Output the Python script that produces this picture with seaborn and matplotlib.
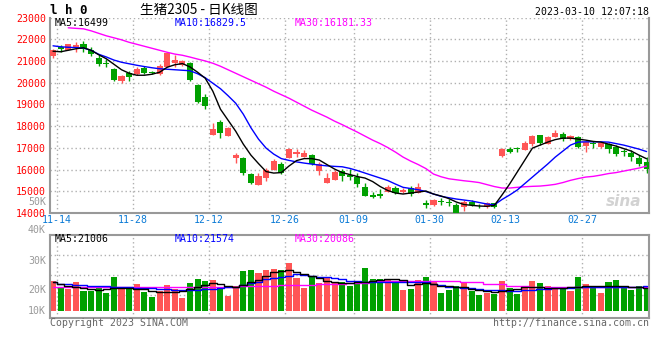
import numpy as np
import pandas as pd
import matplotlib
matplotlib.use("Agg")
import matplotlib.pyplot as plt
import seaborn as sns

# ---------------- data ----------------
opens = [21220, 21650, 21530, 21650, 21800, 21520, 21160, 20920, 20610, 20070,
         20450, 20390, 20680, 20490, 20390, 20730, 20920, 20805, 20900, 19885,
         19335, 17585, 18200, 17540, 16530, 16515, 15795, 15290, 15625, 15980,
         16250, 16515, 16715, 16560, 16670, 15945, 15365, 15520, 15945, 15750,
         15670, 15210, 14830, 14860, 14980, 15135, 14980, 15135, 14935, 14460,
         14368, 14560, 14500, 14370, 14260, 14520, 14340, 14260, 14445, 16620,
         16930, 16980, 16900, 17160, 17570, 17200, 17480, 17660, 17430, 17480,
         17080, 17200, 17050, 17160, 17020, 16820, 16770, 16540, 16360]
highs = [21540, 21725, 21800, 21880, 21920, 21650, 21265, 21080, 20665, 20370,
         20530, 20710, 20760, 20550, 20850, 21425, 21265, 21035, 20945, 19930,
         19500, 18140, 18275, 17955, 16770, 16575, 15840, 15825, 16070, 16480,
         16360, 17000, 16930, 16900, 16700, 16360, 15825, 15980, 16010, 16010,
         15825, 15365, 14950, 15090, 15290, 15240, 15150, 15240, 15365, 14600,
         14640, 14675, 14640, 14460, 14600, 14620, 14400, 14505, 14480, 16990,
         17050, 17020, 17300, 17610, 17610, 17540, 17830, 17720, 17600, 17540,
         17300, 17300, 17260, 17230, 17110, 16970, 16910, 16680, 16590]
lows = [21130, 21415, 21500, 21415, 21415, 21220, 20760, 20710, 20070, 19980,
        20090, 20345, 20415, 20390, 20345, 20715, 20730, 20760, 20070, 19080,
        18780, 17585, 17450, 17540, 16310, 15750, 15335, 15290, 15485, 15980,
        15795, 16515, 16590, 16560, 16210, 15750, 15365, 15520, 15485, 15520,
        15210, 14780, 14705, 14705, 14980, 14875, 14935, 14780, 14935, 14230,
        14340, 14370, 14320, 14000, 14105, 14340, 14230, 14230, 14240, 16570,
        16750, 16800, 16900, 17100, 17140, 17200, 17480, 17330, 17380, 16990,
        16810, 16990, 16990, 16760, 16630, 16630, 16400, 16170, 15860]
closes = [21500, 21555, 21770, 21760, 21560, 21340, 20850, 20880, 20115, 20310,
          20255, 20635, 20450, 20470, 20780, 21370, 21035, 20990, 20115, 19120,
          18920, 17860, 17690, 17895, 16650, 15825, 15395, 15700, 15980, 16390,
          15825, 16930, 16820, 16745, 16255, 16255, 15625, 15900, 15700, 15670,
          15335, 14795, 14750, 14780, 15210, 14905, 15060, 14875, 15210, 14380,
          14598, 14500, 14450, 14015, 14520, 14370, 14300, 14445, 14290, 16930,
          16820, 16950, 17230, 17540, 17230, 17480, 17690, 17400, 17540, 17050,
          17260, 17170, 17230, 16940, 16700, 16790, 16560, 16250, 16010]
ma5 = [21450, 21426, 21495, 21564, 21610, 21495, 21288, 21104, 20851, 20598,
       20437, 20345, 20345, 20391, 20483, 20713, 20828, 20883, 20727, 20483,
       20207, 19610, 18782, 18276, 17770, 17173, 16667, 16276, 15908, 15839,
       15862, 16161, 16414, 16506, 16506, 16437, 16230, 16023, 15862, 15770,
       15678, 15609, 15448, 15218, 15035, 14920, 14874, 14920, 14966, 15012,
       14874, 14782, 14667, 14506, 14391, 14354, 14322, 14308, 14354, 14828,
       15333, 15885, 16437, 16989, 17127, 17265, 17380, 17449, 17449, 17403,
       17357, 17297, 17265, 17173, 17081, 16966, 16851, 16667, 16499]
ma10 = [21700, 21656, 21633, 21619, 21596, 21495, 21311, 21187, 21044, 20943,
        20874, 20805, 20745, 20690, 20644, 20621, 20598, 20575, 20552, 20414,
        20230, 19977, 19725, 19403, 19058, 18552, 17931, 17403, 16989, 16713,
        16506, 16423, 16354, 16299, 16253, 16207, 16170, 16147, 16129, 16055,
        15954, 15839, 15724, 15609, 15494, 15333, 15182, 15127, 15071, 14989,
        14874, 14768, 14704, 14644, 14598, 14552, 14483, 14414, 14377, 14621,
        14828, 15058, 15356, 15655, 15954, 16253, 16575, 16851, 17127, 17265,
        17278, 17278, 17278, 17265, 17196, 17127, 17035, 16943, 16830]
ma30 = [np.nan, np.nan, 22530, 22505, 22483, 22391, 22276, 22161, 22069, 21977,
        21862, 21771, 21679, 21587, 21495, 21403, 21320, 21265, 21182, 21090,
        21003, 20897, 20759, 20598, 20437, 20276, 20115, 19954, 19793, 19610,
        19449, 19288, 19104, 18920, 18736, 18575, 18414, 18230, 18069, 17895,
        17724, 17540, 17357, 17196, 17012, 16805, 16575, 16391, 16230, 16046,
        15793, 15669, 15577, 15531, 15485, 15448, 15402, 15310, 15218, 15150,
        15150, 15182, 15209, 15228, 15241, 15274, 15320, 15402, 15504, 15586,
        15655, 15688, 15747, 15816, 15862, 15931, 16000, 16069, 16161]
volumes = [24.1, 20.8, 20.3, 23.7, 19.4, 19.4, 21.4, 18.4, 26.0, 20.8,
           20.8, 22.7, 18.9, 16.5, 19.2, 22.2, 20.3, 16.0, 23.2, 25.1,
           24.1, 24.6, 20.8, 17.0, 21.8, 28.9, 29.4, 28.0, 29.4, 29.9,
           29.4, 32.7, 25.6, 20.8, 26.5, 23.2, 25.6, 23.2, 23.7, 21.8,
           24.1, 30.3, 25.1, 25.1, 24.6, 24.1, 19.9, 20.3, 24.6, 26.0,
           23.7, 18.4, 19.9, 21.8, 23.2, 19.4, 17.5, 18.4, 18.0, 24.1,
           20.8, 18.0, 21.8, 24.1, 23.2, 21.8, 20.8, 20.3, 19.4, 26.0,
           22.7, 20.8, 18.4, 23.7, 24.6, 21.8, 19.9, 21.8, 21.8]
vma5 = [23.43, 22.95, 22.0, 21.29, 20.67, 20.33, 19.86, 20.33, 20.67, 20.81,
        20.9, 20.57, 20.19, 19.38, 19.05, 18.9, 18.76, 19.38, 20.33, 21.29,
        22.24, 23.19, 22.71, 21.76, 21.43, 22.24, 23.52, 24.62, 26.52, 28.43,
        29.14, 29.38, 28.43, 27.33, 26.52, 25.43, 24.14, 23.43, 23.05, 23.19,
        23.52, 23.81, 24.38, 24.76, 24.95, 25.24, 24.62, 22.24, 22.71, 23.05,
        22.48, 21.76, 21.62, 21.52, 21.43, 20.57, 19.71, 19.38, 19.05, 19.38,
        19.86, 20.57, 21.29, 21.29, 21.05, 20.95, 20.81, 20.67, 21.05, 21.52,
        21.76, 21.76, 21.76, 21.76, 21.76, 21.62, 21.43, 21.43, 21.01]
vma10 = [23.52, 22.95, 22.48, 22.24, 22.1, 22.0, 21.9, 21.76, 21.52, 21.29,
         21.05, 20.95, 20.81, 20.67, 20.48, 20.19, 19.86, 19.86, 19.86, 19.86,
         20.1, 20.33, 20.67, 21.05, 21.52, 22.24, 23.05, 23.9, 24.86, 25.57,
         26.19, 26.76, 27.33, 27.0, 26.29, 26.05, 25.9, 25.57, 24.86, 24.38,
         24.05, 23.81, 23.81, 23.81, 23.81, 23.67, 23.67, 23.57, 23.52, 23.52,
         22.95, 22.24, 21.43, 21.14, 20.81, 20.67, 20.33, 20.0, 19.86, 19.62,
         19.38, 19.38, 19.62, 19.86, 20.1, 20.43, 20.67, 20.67, 20.67, 21.05,
         21.43, 21.43, 21.29, 21.05, 21.05, 21.29, 21.43, 21.52, 21.57]
vma30 = [21.43, 21.43, 21.43, 21.43, 21.43, 21.43, 21.43, 21.43, 21.43, 21.43,
         21.43, 21.43, 21.43, 21.43, 21.43, 21.43, 21.43, 21.43, 21.43, 21.43,
         21.43, 21.43, 21.43, 21.43, 21.43, 21.62, 21.62, 21.62, 21.62, 21.62,
         22.24, 22.24, 22.24, 22.24, 22.24, 22.71, 22.71, 22.71, 22.71, 23.19,
         23.19, 23.19, 24.14, 24.14, 24.14, 24.14, 24.14, 24.14, 24.14, 24.14,
         24.14, 24.38, 24.38, 24.38, 23.81, 23.81, 23.81, 22.48, 22.48, 22.48,
         21.76, 21.76, 21.76, 21.43, 21.43, 21.43, 21.43, 21.43, 21.43, 21.43,
         21.14, 21.14, 21.14, 21.14, 21.14, 21.14, 21.14, 21.14, 21.14]
tick_index = [0, 10, 20, 30, 39, 49, 59, 69]
tick_labels = ["11-14", "11-28", "12-12", "12-26", "01-09", "01-30", "02-13", "02-27"]
price_ticks = [14000, 15000, 16000, 17000, 18000, 19000, 20000, 21000, 22000, 23000]
vol_label_values = [10, 20, 33.7, 48.3, 61.6]
vol_label_texts = ["10K", "20K", "30K", "40K", "50K"]
vol_grid_values = [17.48, 27.0, 36.5]
vol_base = 10

# ---------------- style ----------------
sns.set_style("white")
plt.rcParams['font.family'] = ['DejaVu Sans Mono', 'Noto Sans CJK SC']
FS = 7.1
RED = '#ff5555'
GREEN = '#00a000'
GRIDC = '#b0b0b0'
SPINEC = '#999999'
DATEC = '#0a7ad6'
DOT = (0, (1, 2))

W, H = 660, 360
fig = plt.figure(figsize=(6.6, 3.6), dpi=100)
ax = fig.add_axes([50 / W, (H - 213) / H, 599.3 / W, 195.4 / H])
axv = fig.add_axes([50 / W, (H - 317.7) / H, 599.3 / W, 83 / H])

idx = np.arange(len(closes))
df = pd.DataFrame({"i": idx, "open": opens, "high": highs, "low": lows, "close": closes,
                   "ma5": ma5, "ma10": ma10, "ma30": ma30, "vol": volumes,
                   "vma5": vma5, "vma10": vma10, "vma30": vma30})
up = df["close"] >= df["open"]
colors = np.where(up, RED, GREEN)

xmin, xmax = -0.4, 78.36

# ---------------- price panel ----------------
ax.vlines(df["i"], df["low"], df["high"], colors=colors, linewidth=1, zorder=2)
body_low = np.minimum(df["open"], df["close"])
body_h = np.maximum(np.abs(df["close"] - df["open"]), 45)
ax.bar(df["i"], body_h, bottom=body_low, width=0.8, color=colors, linewidth=0, zorder=3)
sns.lineplot(data=df, x="i", y="ma30", ax=ax, color='#ff00ff', linewidth=1, legend=False, zorder=4)
sns.lineplot(data=df, x="i", y="ma10", ax=ax, color='#0000ff', linewidth=1, legend=False, zorder=4)
sns.lineplot(data=df, x="i", y="ma5", ax=ax, color='#000000', linewidth=1, legend=False, zorder=5)

ax.set_xlim(xmin, xmax)
ax.set_ylim(14000, 23000)
ax.set_yticks(price_ticks)
ax.set_yticklabels([str(v) for v in price_ticks], color='#ff0000', fontsize=FS)
ax.set_xticks(np.array(tick_index) + 0.5)
ax.set_xticklabels(tick_labels, color=DATEC, fontsize=FS)
ax.tick_params(axis='both', length=0)
ax.tick_params(axis='y', pad=3)
ax.tick_params(axis='x', pad=1.5)
ax.grid(True, linestyle=DOT, color=GRIDC, linewidth=1, zorder=0)
ax.set_axisbelow(True)
ax.set_xlabel("")
ax.set_ylabel("")
for s in ['left', 'bottom', 'right']:
    ax.spines[s].set_color(SPINEC)
    ax.spines[s].set_linewidth(1.5)
ax.spines['top'].set_visible(False)

# ---------------- volume panel ----------------
axv.bar(df["i"], df["vol"] - vol_base, bottom=vol_base, width=0.8, color=colors, linewidth=0, zorder=2)
sns.lineplot(data=df, x="i", y="vma30", ax=axv, color='#ff00ff', linewidth=1, legend=False,
             drawstyle='steps-mid', zorder=3)
sns.lineplot(data=df, x="i", y="vma10", ax=axv, color='#0000ff', linewidth=1, legend=False,
             drawstyle='steps-mid', zorder=4)
sns.lineplot(data=df, x="i", y="vma5", ax=axv, color='#000000', linewidth=1, legend=False,
             drawstyle='steps-mid', zorder=5)
vlo = vol_base - 7 / 2.1
vhi = vol_base + (310.7 - 234.7) / 2.1
axv.set_xlim(xmin, xmax)
axv.set_ylim(vlo, vhi)
axv.set_xticks(np.array(tick_index) + 0.5)
axv.set_xticklabels([])
axv.set_yticks([])
axv.tick_params(axis='both', length=0)
axv.xaxis.grid(True, linestyle=DOT, color=GRIDC, linewidth=1, zorder=0)
for v in vol_grid_values:
    axv.axhline(v, linestyle=DOT, color=GRIDC, linewidth=1, zorder=0)
axv.set_axisbelow(True)
axv.set_xlabel("")
axv.set_ylabel("")
for s in axv.spines.values():
    s.set_color(SPINEC)
    s.set_linewidth(1.5)
for v, t in zip(vol_label_values, vol_label_texts):
    axv.text(-4 / 599.3, v, t, transform=axv.get_yaxis_transform(), ha='right', va='center',
             color='#999999', fontsize=FS, clip_on=False)

# ---------------- texts ----------------
def ftxt(x, y, s, **kw):
    kw.setdefault('fontsize', FS)
    kw.setdefault('va', 'center')
    fig.text(x / W, 1 - y / H, s, **kw)

ftxt(50, 11, "l h 0", fontsize=9, fontweight='bold', color='black')
ftxt(140, 10, "生猪2305 - 日K线图", fontsize=9.8, color='black',
     family=['Noto Sans CJK SC', 'DejaVu Sans'])
ftxt(649, 12, "2023-03-10 12:07:18", ha='right', color='black')
ftxt(55, 23, "MA5:16499", color='black')
ftxt(175, 23, "MA10:16829.5", color='#0000ff')
ftxt(295, 23, "MA30:16181.33", color='#ff00ff')
ftxt(55, 238.5, "MA5:21006", color='black')
ftxt(175, 238.5, "MA10:21574", color='#0000ff')
ftxt(295, 238.5, "MA30:20086", color='#ff00ff')
ftxt(50, 323.5, "Copyright 2023 SINA.COM", color='#666666')
ftxt(649, 323.5, "http://finance.sina.com.cn", ha='right', color='#666666')
ftxt(624, 201, "sina", ha='center', fontsize=11, fontweight='bold', fontstyle='italic',
     color='#d2d2d2', family='DejaVu Sans')

fig.savefig("out.png", dpi=100)
